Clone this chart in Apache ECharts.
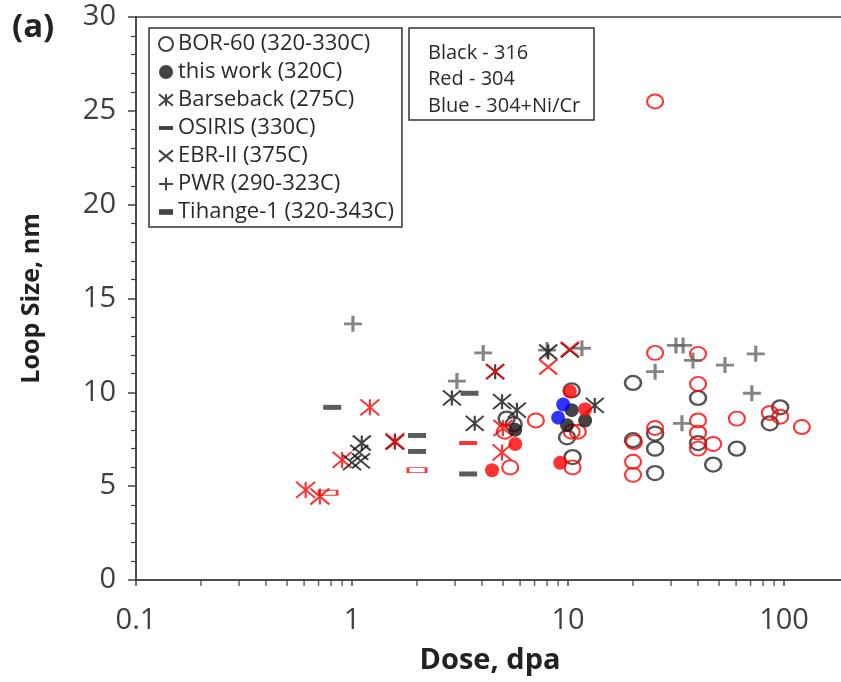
<!DOCTYPE html>
<html><head><meta charset="utf-8">
<script src="https://cdn.jsdelivr.net/npm/echarts@6/dist/echarts.min.js"></script>
<style>html,body{margin:0;padding:0;background:#fff}#c{width:841px;height:682px}</style>
</head><body><div id="c"></div>
<script>
// ---- data (dose in dpa, loop size in nm) ----
const yTicks = [0, 5, 10, 15, 20, 25, 30];
const xMinorTicks = [0.2,0.3,0.4,0.5,0.6,0.7,0.8,0.9,2,3,4,5,6,7,8,9,20,30,40,50,60,70,80,90];
const bor60_316 = [[5.2,8.6],[5.6,8.3],[10.4,10.1],[9.9,7.6],[10.5,6.55],[20,10.5],[20,7.45],[25.3,7.8],[25.3,7.0],[25.3,5.7],[40,9.7],[40,7.3],[47,6.15],[60.5,7.0],[96,9.2],[86,8.35]];
const bor60_304 = [[25.3,25.5],[25.3,12.1],[40,12.05],[40,10.45],[40,8.5],[40,7.85],[40,7.0],[47,7.25],[25.3,8.1],[20.2,7.35],[20,6.3],[20,5.6],[60.5,8.6],[86,8.9],[96,8.7],[121,8.15],[7.1,8.5],[5.4,6.0],[10.5,6.0],[10.4,7.9],[11.1,7.9],[5.1,7.9]];
const thisWork_316 = [[5.7,8.0],[10.4,9.05],[9.9,8.25],[12.0,8.5]];
const thisWork_304 = [[4.45,5.85],[5.7,7.25],[10.2,10.05],[12.0,9.1],[9.2,6.25]];
const thisWork_NiCr = [[9.5,9.35],[9.0,8.65]];
const barseback_316 = [[1.11,7.3],[1.58,7.35],[2.9,9.7],[4.6,11.1],[4.95,9.5],[5.8,9.05],[3.7,8.35],[8.1,12.15],[13.3,9.3]];
const barseback_304 = [[0.61,4.8],[0.71,4.45],[0.9,6.4],[1.21,9.2],[1.58,7.4],[5.0,8.1],[4.95,6.8]];
const osiris_316 = [[0.81,9.2],[2.0,7.7],[2.0,6.85],[3.5,9.95],[3.45,5.65]];
const osiris_304 = [[3.45,7.3]];
const ebr2_316 = [[1.0,6.25],[1.1,6.35],[1.08,6.8],[10.2,12.25]];
const ebr2_304 = [[4.6,11.1],[8.1,11.35],[10.2,12.3]];
const pwr_316 = [[1.01,13.65],[3.06,10.6],[4.05,12.1],[8.0,12.25],[11.6,12.35],[25.3,11.1],[31.6,12.5],[34.1,12.5],[37.9,11.7],[53.3,11.45],[74,12.05],[71,9.95],[33.7,8.35]];
const tihange_304 = [[2.0,5.85],[0.775,4.65]];
const legendNames = ['BOR-60 (320-330C)','this work (320C)','Barseback (275C)','OSIRIS (330C)','EBR-II (375C)','PWR (290-323C)','Tihange-1 (320-343C)'];

// ---- styling ----
const BLK = '#141414', RED = '#ff0000', BLUE = '#0000ff', GRAY = '#666666';
const SYM = {
  x: 'path://M0,0L20,16M20,0L0,16',
  ast: 'path://M0,0L18,15M18,0L0,15M9,0L9,15',
  plus: 'path://M0,8L18,8M9,0L9,16',
  bar: 'path://M0,0L18,0L18,5L0,5Z',
  sbar: 'path://M0,0L10,0L10,4L0,4Z'
};
function sc(name, data, symbol, size, itemStyle, z) {
  return { type: 'scatter', name, data, symbol, symbolSize: size, symbolKeepAspect: false,
    itemStyle, z: z || 2, clip: false, emphasis: { disabled: true } };
}
const open = c => ({ color: 'rgba(0,0,0,0)', borderColor: c, borderWidth: 2 });
const fill = c => ({ color: c });
const line = (c, w) => ({ color: 'rgba(0,0,0,0)', borderColor: c, borderWidth: w || 2 });

const series = [
  sc(legendNames[0], bor60_316, 'circle', [16, 14], { color: 'rgba(0,0,0,0)', borderColor: '#2a2a2a', borderWidth: 2.4 }, 2),
  sc('BOR-60 304', bor60_304, 'circle', [16, 14], open(RED), 2),
  sc(legendNames[5], pwr_316, SYM.plus, [18, 16], line(GRAY, 3), 2),
  sc(legendNames[2], barseback_316, SYM.ast, [18, 15], line(BLK, 2), 3),
  sc('Barseback 304', barseback_304, SYM.ast, [19, 16], line(RED, 2), 3),
  sc(legendNames[4], ebr2_316, SYM.x, [18, 15], line(BLK, 2), 3),
  sc('EBR-II 304', ebr2_304, SYM.x, [18, 15], line(RED, 2), 3),
  sc(legendNames[3], osiris_316, SYM.bar, [18, 5], fill('#333'), 3),
  sc('OSIRIS 304', osiris_304, SYM.bar, [18, 4], fill(RED), 3),
  sc(legendNames[6], tihange_304, SYM.bar, [18, 5], line(RED, 1.5), 3),
  sc(legendNames[1], thisWork_316, 'circle', 14, fill(BLK), 4),
  sc('this work 304', thisWork_304, 'circle', 14, fill(RED), 4),
  sc('this work 304+Ni/Cr', thisWork_NiCr, 'circle', 14, fill(BLUE), 4),
  { type: 'scatter', name: 'minorTicks', data: xMinorTicks.map(v => [v, 0]), symbol: 'rect',
    symbolSize: [1.5, 6], symbolOffset: [0, 3], clip: false, silent: true, z: 1,
    itemStyle: { color: '#404040' } }
];

const FONT = 'Open Sans';
const chart = echarts.init(document.getElementById('c'), null, { renderer: 'canvas' });
chart.setOption({
  animation: false,
  backgroundColor: '#fff',
  title: [
    { text: '(a)', left: 12, top: 11, padding: 0,
      textStyle: { fontFamily: FONT, fontSize: 33, fontWeight: 'bold', color: '#222' } },
    { text: 'Black - 316\nRed - 304\nBlue - 304+Ni/Cr', left: 409, top: 28,
      borderColor: '#333', borderWidth: 1.5, padding: [12, 14, 1, 19],
      textStyle: { fontFamily: FONT, fontSize: 20, fontWeight: 'normal', color: '#2a2a2a', lineHeight: 26.5 } }
  ],
  legend: {
    orient: 'vertical', left: 149, top: 28, padding: [5, 8, 4, 9],
    borderColor: '#333', borderWidth: 1.5, itemWidth: 14, itemHeight: 14, itemGap: 6,
    textStyle: { fontFamily: FONT, fontSize: 22, color: '#2a2a2a' },
    data: [
      { name: legendNames[0], icon: 'circle', itemStyle: { color: 'rgba(0,0,0,0)', borderColor: BLK, borderWidth: 2 } },
      { name: legendNames[1], icon: 'circle', itemStyle: { color: BLK } },
      { name: legendNames[2], icon: SYM.ast, itemStyle: { color: 'rgba(0,0,0,0)', borderColor: BLK, borderWidth: 2 } },
      { name: legendNames[3], icon: SYM.bar, itemStyle: { color: BLK, borderWidth: 0 } },
      { name: legendNames[4], icon: SYM.x, itemStyle: { color: 'rgba(0,0,0,0)', borderColor: BLK, borderWidth: 2 } },
      { name: legendNames[5], icon: SYM.plus, itemStyle: { color: 'rgba(0,0,0,0)', borderColor: BLK, borderWidth: 2 } },
      { name: legendNames[6], icon: SYM.sbar, itemStyle: { color: BLK, borderWidth: 0 } }
    ],
    selectedMode: false
  },
  grid: { left: 136, top: 17, width: 864, height: 563, containLabel: false, outerBoundsMode: 'none',
    show: true, borderColor: '#404040', borderWidth: 1.5, backgroundColor: 'transparent' },
  xAxis: {
    type: 'log', logBase: 10, min: 0.1, max: 1000,
    name: 'Dose, dpa', nameLocation: 'middle', nameGap: 66,
    nameTextStyle: { fontFamily: FONT, fontSize: 29, fontWeight: 'bold', color: '#222', padding: [0, 156, 0, 0] },
    axisLine: { show: true, lineStyle: { color: '#404040', width: 1.5 } },
    axisTick: { show: true, length: 6, lineStyle: { color: '#404040', width: 1.5 } },
    axisLabel: { margin: 26, fontFamily: FONT, fontSize: 29, color: '#404040',
      formatter: v => (v < 1 ? String(v) : String(Math.round(v))) },
    splitLine: { show: false }
  },
  yAxis: {
    type: 'value', min: yTicks[0], max: yTicks[yTicks.length - 1], interval: 5,
    name: 'Loop Size, nm', nameLocation: 'middle', nameGap: 92, nameRotate: 90,
    nameTextStyle: { fontFamily: FONT, fontSize: 25, fontWeight: 'bold', color: '#222' },
    axisLine: { show: true, lineStyle: { color: '#404040', width: 1.5 } },
    axisTick: { show: true, length: 8, lineStyle: { color: '#404040', width: 1.5 } },
    minorTick: { show: true, splitNumber: 5, length: 5, lineStyle: { color: '#404040', width: 1.2 } },
    axisLabel: { margin: 20, fontFamily: FONT, fontSize: 29, color: '#404040' },
    splitLine: { show: false }
  },
  series
});
</script></body></html>
